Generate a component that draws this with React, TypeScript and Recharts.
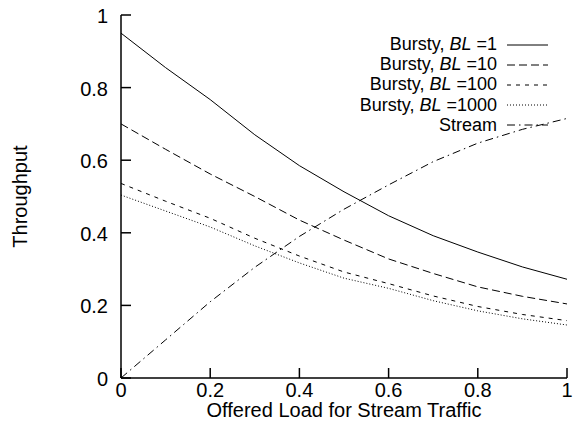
import { LineChart, Line, XAxis, YAxis, Label } from 'recharts';

const loads = [0, 0.1, 0.2, 0.3, 0.4, 0.5, 0.6, 0.7, 0.8, 0.9, 1];
const bl1 = [0.95, 0.855, 0.767, 0.67, 0.585, 0.513, 0.447, 0.392, 0.347, 0.306, 0.272];
const bl10 = [0.7, 0.63, 0.562, 0.5, 0.435, 0.38, 0.328, 0.288, 0.251, 0.225, 0.204];
const bl100 = [0.536, 0.487, 0.44, 0.385, 0.336, 0.292, 0.26, 0.226, 0.197, 0.175, 0.158];
const bl1000 = [0.504, 0.46, 0.416, 0.364, 0.317, 0.275, 0.247, 0.213, 0.185, 0.163, 0.146];
const stream = [0, 0.105, 0.21, 0.305, 0.39, 0.465, 0.532, 0.596, 0.647, 0.685, 0.715];

const xTicks = [0, 0.2, 0.4, 0.6, 0.8, 1];
const xTickLabels = ['0', '0.2', '0.4', '0.6', '0.8', '1'];
const yTicks = [0, 0.2, 0.4, 0.6, 0.8, 1];
const yTickLabels = ['0', '0.2', '0.4', '0.6', '0.8', '1'];

const seriesKeys = ['bl1', 'bl10', 'bl100', 'bl1000', 'stream'];
const seriesNames = ['Bursty, BL =1', 'Bursty, BL =10', 'Bursty, BL =100', 'Bursty, BL =1000', 'Stream'];
const dashes = ['', '8 4', '4 5', '1 2', '8 4 1.5 4'];

const data = loads.map((load, i) => ({
  load,
  bl1: bl1[i],
  bl10: bl10[i],
  bl100: bl100[i],
  bl1000: bl1000[i],
  stream: stream[i],
}));

const font = '"Liberation Sans", Arial, Helvetica, sans-serif';
const FS = 20;
const LEG_FS = 18;
const ROW = 20.2;
const TICK = 10;

const labelOf = (v: number, vals: number[], labels: string[]) => {
  const i = vals.findIndex((t) => Math.abs(t - v) < 1e-9);
  return i >= 0 ? labels[i] : String(v);
};

function BottomTick({ x, y, payload }: any) {
  return (
    <g>
      <line x1={x} x2={x} y1={y} y2={y - TICK} stroke="#000" strokeWidth={1.5} />
      <text x={x} y={y + 19} textAnchor="middle" fontSize={FS} fontFamily={font} fill="#000">
        {labelOf(payload.value, xTicks, xTickLabels)}
      </text>
    </g>
  );
}

function TopTick({ x, y }: any) {
  return <line x1={x} x2={x} y1={y} y2={y + TICK} stroke="#000" strokeWidth={1.5} />;
}

function LeftTick({ x, y, payload }: any) {
  return (
    <g>
      <line x1={x} x2={x + TICK} y1={y} y2={y} stroke="#000" strokeWidth={1.5} />
      <text x={x - 13} y={y + 8} textAnchor="end" fontSize={FS} fontFamily={font} fill="#000">
        {labelOf(payload.value, yTicks, yTickLabels)}
      </text>
    </g>
  );
}

function RightTick({ x, y }: any) {
  return <line x1={x} x2={x - TICK} y1={y} y2={y} stroke="#000" strokeWidth={1.5} />;
}

function LegendName({ name }: { name: string }) {
  const parts = name.split('BL');
  if (parts.length < 2) return <span style={{ whiteSpace: 'pre' }}>{name}</span>;
  return (
    <span style={{ whiteSpace: 'pre' }}>
      {parts[0]}
      <i>BL</i>
      {parts[1]}
    </span>
  );
}

export default function App() {
  return (
    <div style={{ position: 'absolute', left: 0, top: 0, width: 575, height: 433, background: '#fff' }}>
      <LineChart width={575} height={433} data={data} margin={{ top: 15, right: 8, left: 0, bottom: 0 }}>
        <XAxis
          dataKey="load"
          type="number"
          domain={[0, 1]}
          ticks={xTicks}
          height={55}
          tickSize={0}
          tickMargin={0}
          tickLine={false}
          axisLine={{ stroke: '#000', strokeWidth: 1.5 }}
          tick={<BottomTick />}
          interval={0}
        >
          <Label
            content={({ viewBox }: any) => (
              <text
                x={viewBox.x + viewBox.width / 2}
                y={viewBox.y + 39}
                textAnchor="middle"
                fontSize={FS}
                fontFamily={font}
                fill="#000"
              >
                Offered Load for Stream Traffic
              </text>
            )}
          />
        </XAxis>
        <XAxis
          xAxisId="top"
          orientation="top"
          dataKey="load"
          type="number"
          domain={[0, 1]}
          ticks={xTicks}
          height={0}
          tickSize={0}
          tickMargin={0}
          tickLine={false}
          axisLine={{ stroke: '#000', strokeWidth: 1.5 }}
          tick={<TopTick />}
          interval={0}
        />
        <YAxis
          type="number"
          domain={[0, 1]}
          ticks={yTicks}
          width={121}
          tickSize={0}
          tickMargin={0}
          tickLine={false}
          axisLine={{ stroke: '#000', strokeWidth: 1.5 }}
          tick={<LeftTick />}
          interval={0}
        >
          <Label
            content={({ viewBox }: any) => {
              const cx = viewBox.x + 20;
              const cy = viewBox.y + viewBox.height / 2;
              return (
                <text
                  x={cx}
                  y={cy}
                  transform={`rotate(-90 ${cx} ${cy})`}
                  textAnchor="middle"
                  dominantBaseline="central"
                  fontSize={FS}
                  fontFamily={font}
                  fill="#000"
                >
                  Throughput
                </text>
              );
            }}
          />
        </YAxis>
        <YAxis
          yAxisId="right"
          orientation="right"
          type="number"
          domain={[0, 1]}
          ticks={yTicks}
          width={0}
          tickSize={0}
          tickMargin={0}
          tickLine={false}
          axisLine={{ stroke: '#000', strokeWidth: 1.5 }}
          tick={<RightTick />}
          interval={0}
        />
        {seriesKeys.map((k, i) => (
          <Line
            key={k}
            dataKey={k}
            name={seriesNames[i]}
            type="linear"
            stroke="#000"
            strokeWidth={1}
            strokeDasharray={dashes[i] || undefined}
            dot={false}
            activeDot={false}
            isAnimationActive={false}
          />
        ))}
      </LineChart>
      <div
        style={{
          position: 'absolute',
          top: 34,
          right: 27,
          fontFamily: font,
          fontSize: LEG_FS,
          color: '#000',
        }}
      >
        {seriesNames.map((n, i) => (
          <div
            key={n}
            style={{ display: 'flex', alignItems: 'center', justifyContent: 'flex-end', height: ROW, lineHeight: `${ROW}px` }}
          >
            <LegendName name={n} />
            <svg width={41} height={19} style={{ marginLeft: 10 }}>
              <line
                x1={0}
                x2={41}
                y1={10}
                y2={10}
                stroke="#000"
                strokeWidth={1}
                strokeDasharray={dashes[i] || undefined}
              />
            </svg>
          </div>
        ))}
      </div>
    </div>
  );
}
